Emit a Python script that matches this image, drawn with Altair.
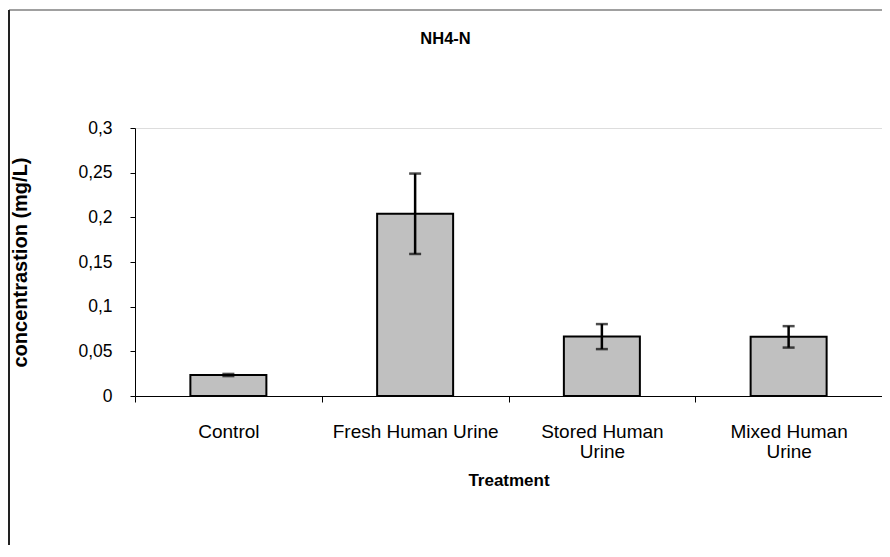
import altair as alt
import pandas as pd

categories = ["Control", "Fresh Human Urine", "Stored Human Urine", "Mixed Human Urine"]
label_lines = [["Control"], ["Fresh Human Urine"], ["Stored Human", "Urine"], ["Mixed Human", "Urine"]]
means = [0.0235, 0.204, 0.0665, 0.0662]
errors = [0.0012, 0.045, 0.014, 0.012]
y_ticks = [0, 0.05, 0.1, 0.15, 0.2, 0.25, 0.3]

df = pd.DataFrame({
    "category": categories,
    "mean": means,
    "lower": [m - e for m, e in zip(means, errors)],
    "upper": [m + e for m, e in zip(means, errors)],
})

# multi-line tick labels
parts = []
for cat, lines in zip(categories, label_lines):
    arr = "[" + ",".join("'" + l + "'" for l in lines) + "]"
    parts.append(f"datum.label == '{cat}' ? {arr} : ")
label_expr = "".join(parts) + "datum.label"

FONT = "Liberation Sans"

x_enc = alt.X(
    "category:N",
    sort=categories,
    scale=alt.Scale(paddingInner=0, paddingOuter=0),
    axis=alt.Axis(
        title="Treatment",
        labelAngle=0,
        labelExpr=label_expr,
        labelFontSize=19,
        labelFont=FONT,
        labelColor="black",
        labelPadding=20,
        labelLineHeight=20,
        tickBand="extent",
        tickSize=6,
        tickColor="black",
        domainColor="black",
        titleFont=FONT,
        titleFontSize=17,
        titleFontWeight="bold",
        titleColor="black",
        titleX=373.5,
        titleY=84,
        titleBaseline="middle",
    ),
)

y_scale = alt.Scale(domain=[0, 0.3], nice=False)
y_axis = alt.Axis(
    title="concentrastion (mg/L)",
    values=y_ticks,
    labelExpr="replace(toString(datum.value), '.', ',')",
    labelFontSize=17.5,
    labelFont=FONT,
    labelColor="black",
    labelPadding=18,
    tickSize=5,
    tickColor="black",
    domainColor="black",
    grid=False,
    titleFont=FONT,
    titleFontSize=20,
    titleFontWeight="bold",
    titleColor="black",
    titleX=-115,
    titleY=134,
    titleBaseline="middle",
    titleAlign="center",
)

base = alt.Chart(df)

bars = base.mark_bar(size=76, fill="#c0c0c0", stroke="black", strokeWidth=2).encode(
    x=x_enc,
    y=alt.Y("mean:Q", scale=y_scale, axis=y_axis),
)

err = base.mark_rule(color="black", strokeWidth=2.5).encode(
    x=alt.X("category:N", sort=categories),
    y=alt.Y("lower:Q", scale=y_scale),
    y2="upper:Q",
)
cap_hi = base.mark_tick(color="black", size=12, thickness=2.5).encode(
    x=alt.X("category:N", sort=categories),
    y=alt.Y("upper:Q", scale=y_scale),
)
cap_lo = base.mark_tick(color="black", size=12, thickness=2.5).encode(
    x=alt.X("category:N", sort=categories),
    y=alt.Y("lower:Q", scale=y_scale),
)

# outer chart frame (top and left edges visible in reference)
frame_top = alt.Chart(df.head(1)).mark_rule(color="#808080", strokeWidth=1.5).encode(
    x=alt.value(-126), x2=alt.value(760), y=alt.value(-118)
)
frame_left = alt.Chart(df.head(1)).mark_rule(color="#222222", strokeWidth=2).encode(
    x=alt.value(-126), y=alt.value(-118), y2=alt.value(440)
)

chart = (
    alt.layer(frame_top, frame_left, bars, err, cap_hi, cap_lo)
    .properties(
        width=747,
        height=268,
        title=alt.TitleParams(
            text="NH4-N",
            font=FONT,
            fontSize=16.5,
            fontWeight="bold",
            color="black",
            anchor="middle",
            dx=-63,
            offset=-46,
            baseline="middle",
        ),
        autosize=alt.AutoSizeParams(type="none"),
        padding={"left": 127, "top": 120, "right": 0, "bottom": 149},
    )
    .configure_view(stroke=None)
    .configure(background="white")
)

chart.save("out.html", embed_options={"renderer": "svg", "actions": False})
